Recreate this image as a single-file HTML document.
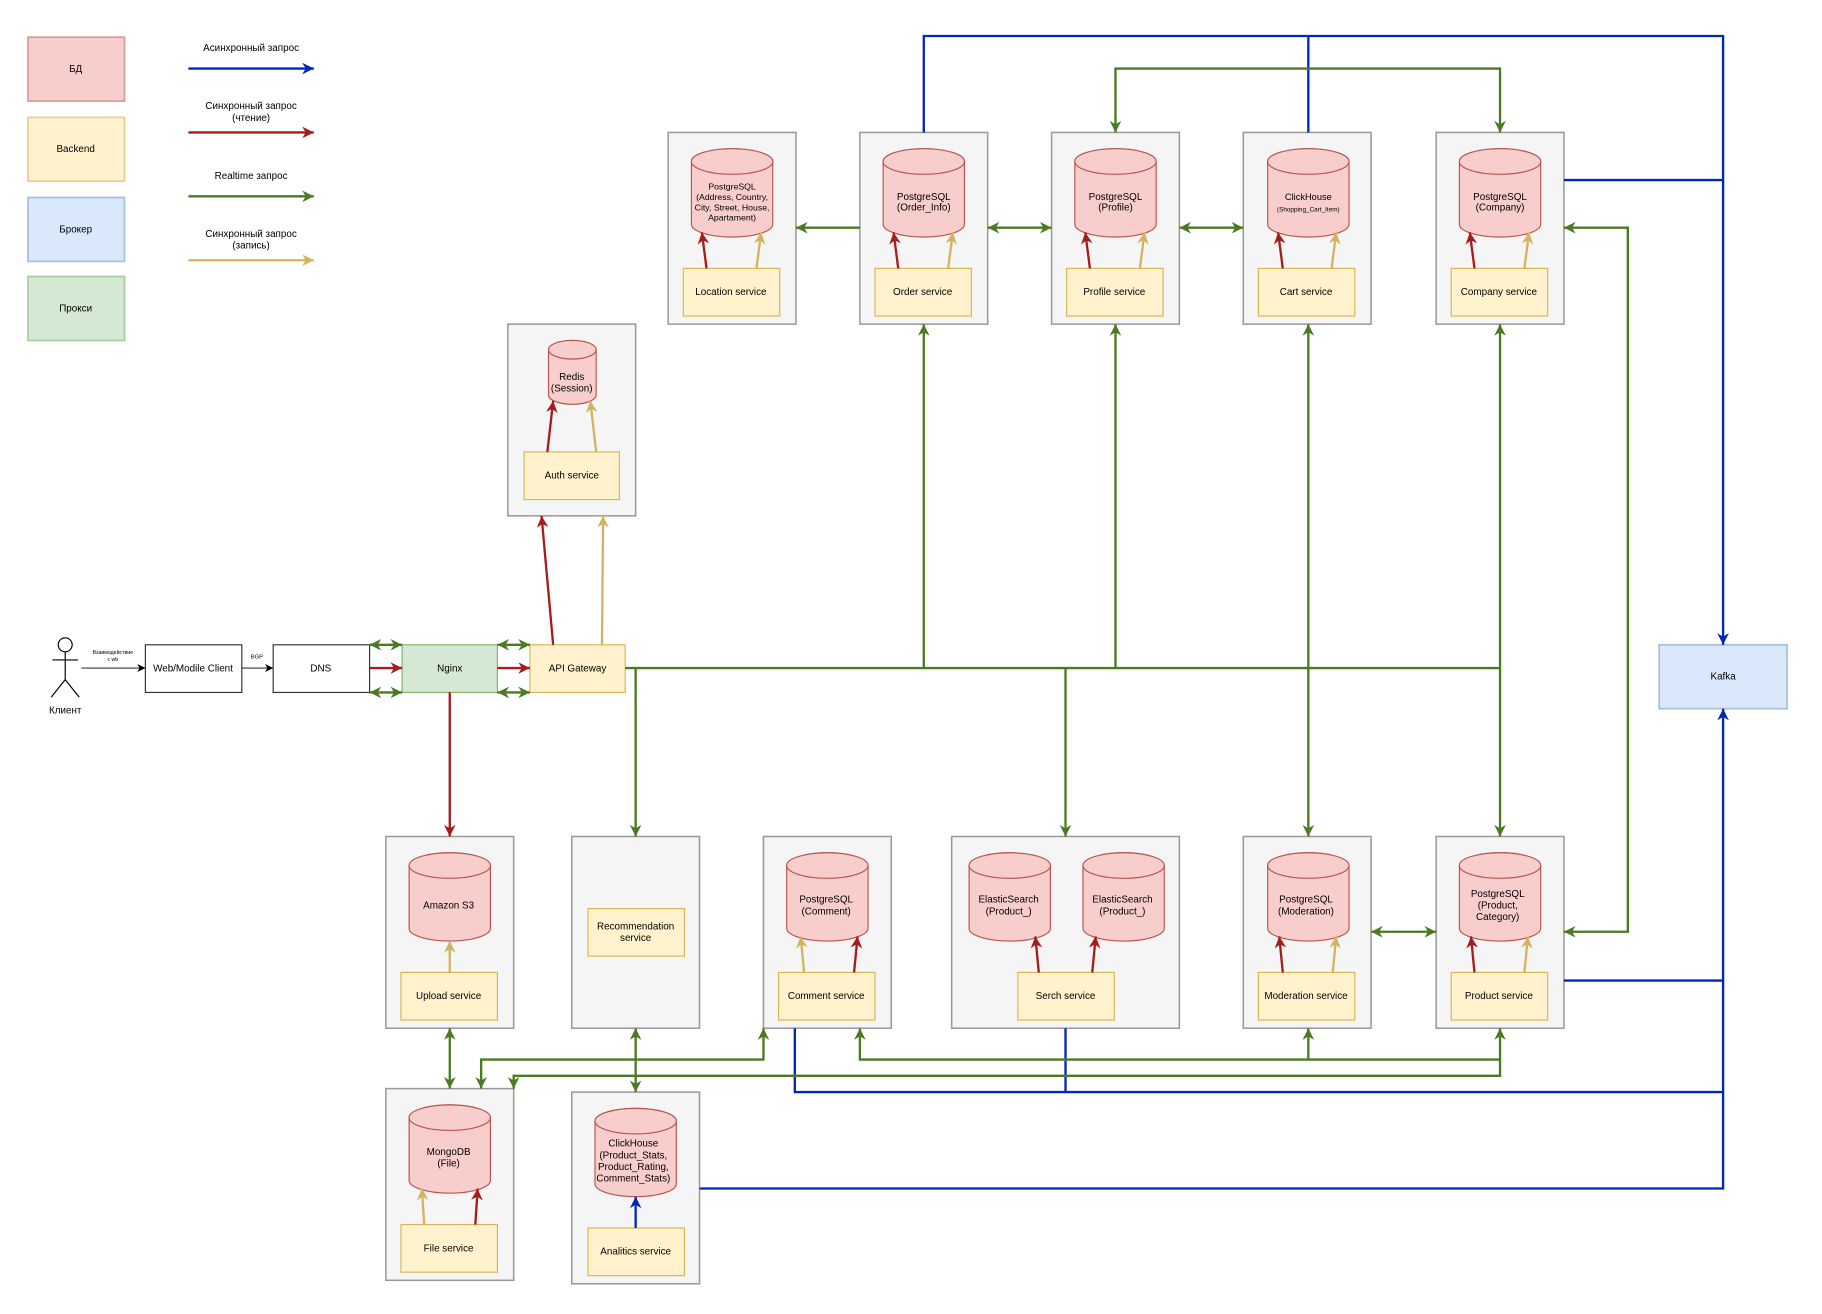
<!DOCTYPE html>
<html><head><meta charset="utf-8"><style>html,body{margin:0;padding:0;background:#fff}svg{display:block}text{font-family:"Liberation Sans","DejaVu Sans",sans-serif;fill:#000}</style></head><body>
<svg width="1822" height="1314" viewBox="0 0 1568 1131" xmlns="http://www.w3.org/2000/svg">
<defs>
<marker id="b" markerUnits="userSpaceOnUse" markerWidth="12" markerHeight="12" refX="10" refY="5" orient="auto-start-reverse"><path d="M0,0 L10,5 L0,10 L3,5z" fill="#0027b8"/></marker>
<marker id="r" markerUnits="userSpaceOnUse" markerWidth="12" markerHeight="12" refX="10" refY="5" orient="auto-start-reverse"><path d="M0,0 L10,5 L0,10 L3,5z" fill="#a61c1c"/></marker>
<marker id="g" markerUnits="userSpaceOnUse" markerWidth="12" markerHeight="12" refX="10" refY="5" orient="auto-start-reverse"><path d="M0,0 L10,5 L0,10 L3,5z" fill="#4a7a22"/></marker>
<marker id="y" markerUnits="userSpaceOnUse" markerWidth="12" markerHeight="12" refX="10" refY="5" orient="auto-start-reverse"><path d="M0,0 L10,5 L0,10 L3,5z" fill="#d3b45e"/></marker>
<marker id="k" markerUnits="userSpaceOnUse" markerWidth="8" markerHeight="8" refX="7" refY="3.5" orient="auto"><path d="M0,0 L7,3.5 L0,7 L2,3.5z" fill="#000"/></marker>
</defs>
<g font-size="8.5" text-anchor="middle">
<rect x="24" y="32" width="83" height="55" fill="#f8cecc" stroke="#d79b9b" stroke-width="1.5"/><text x="65" y="62">БД</text>
<rect x="24" y="101" width="83" height="55" fill="#fff2cc" stroke="#e6d08e" stroke-width="1.5"/><text x="65" y="131">Backend</text>
<rect x="24" y="170" width="83" height="55" fill="#dae8fc" stroke="#a9bfe0" stroke-width="1.5"/><text x="65" y="200">Брокер</text>
<rect x="24" y="238" width="83" height="55" fill="#d5e8d4" stroke="#a9cc9f" stroke-width="1.5"/><text x="65" y="268">Прокси</text>
<text x="216" y="44">Асинхронный запрос</text>
<line x1="162" y1="59" x2="270" y2="59" stroke="#0027b8" stroke-width="2" marker-end="url(#b)"/>
<text x="216" y="94">Синхронный запрос</text><text x="216" y="104">(чтение)</text>
<line x1="162" y1="114" x2="270" y2="114" stroke="#a61c1c" stroke-width="2" marker-end="url(#r)"/>
<text x="216" y="154">Realtime запрос</text>
<line x1="162" y1="169" x2="270" y2="169" stroke="#4a7a22" stroke-width="2" marker-end="url(#g)"/>
<text x="216" y="204">Синхронный запрос</text><text x="216" y="214">(запись)</text>
<line x1="162" y1="224" x2="270" y2="224" stroke="#d3b45e" stroke-width="2" marker-end="url(#y)"/>

<g fill="#f5f5f5" stroke="#999" stroke-width="1.3">
<rect x="575" y="114" width="110" height="165"/><rect x="740" y="114" width="110" height="165"/><rect x="905" y="114" width="110" height="165"/><rect x="1070" y="114" width="110" height="165"/><rect x="1236" y="114" width="110" height="165"/>
<rect x="437" y="279" width="110" height="165"/>
<rect x="332" y="720" width="110" height="165"/><rect x="492" y="720" width="110" height="165"/><rect x="657" y="720" width="110" height="165"/><rect x="819" y="720" width="196" height="165"/><rect x="1070" y="720" width="110" height="165"/><rect x="1236" y="720" width="110" height="165"/>
<rect x="332" y="937" width="110" height="165"/><rect x="492" y="940" width="110" height="165"/>
</g>

<g fill="#f8cecc" stroke="#b85450" stroke-width="1">
<path d="M595,139 V193 A35,11 0 0 0 665,193 V139 A35,11 0 0 0 595,139Z"/><ellipse cx="630" cy="139" rx="35" ry="11"/>
<path d="M760,139 V193 A35,11 0 0 0 830,193 V139 A35,11 0 0 0 760,139Z"/><ellipse cx="795" cy="139" rx="35" ry="11"/>
<path d="M925,139 V193 A35,11 0 0 0 995,193 V139 A35,11 0 0 0 925,139Z"/><ellipse cx="960" cy="139" rx="35" ry="11"/>
<path d="M1091,139 V193 A35,11 0 0 0 1161,193 V139 A35,11 0 0 0 1091,139Z"/><ellipse cx="1126" cy="139" rx="35" ry="11"/>
<path d="M1256,139 V193 A35,11 0 0 0 1326,193 V139 A35,11 0 0 0 1256,139Z"/><ellipse cx="1291" cy="139" rx="35" ry="11"/>
<path d="M472,301 V340 A20.5,8 0 0 0 513,340 V301 A20.5,8 0 0 0 472,301Z"/><ellipse cx="492.5" cy="301" rx="20.5" ry="8"/>
<path d="M352,745 V799 A35,11 0 0 0 422,799 V745 A35,11 0 0 0 352,745Z"/><ellipse cx="387" cy="745" rx="35" ry="11"/>
<path d="M677,745 V799 A35,11 0 0 0 747,799 V745 A35,11 0 0 0 677,745Z"/><ellipse cx="712" cy="745" rx="35" ry="11"/>
<path d="M834,745 V799 A35,11 0 0 0 904,799 V745 A35,11 0 0 0 834,745Z"/><ellipse cx="869" cy="745" rx="35" ry="11"/>
<path d="M932,745 V799 A35,11 0 0 0 1002,799 V745 A35,11 0 0 0 932,745Z"/><ellipse cx="967" cy="745" rx="35" ry="11"/>
<path d="M1091,745 V799 A35,11 0 0 0 1161,799 V745 A35,11 0 0 0 1091,745Z"/><ellipse cx="1126" cy="745" rx="35" ry="11"/>
<path d="M1256,745 V799 A35,11 0 0 0 1326,799 V745 A35,11 0 0 0 1256,745Z"/><ellipse cx="1291" cy="745" rx="35" ry="11"/>
<path d="M352,962 V1016 A35,11 0 0 0 422,1016 V962 A35,11 0 0 0 352,962Z"/><ellipse cx="387" cy="962" rx="35" ry="11"/>
<path d="M512,965 V1019 A35,11 0 0 0 582,1019 V965 A35,11 0 0 0 512,965Z"/><ellipse cx="547" cy="965" rx="35" ry="11"/>
</g>

<g fill="#fff2cc" stroke="#d6b656" stroke-width="1">
<rect x="588" y="231" width="83" height="41"/><rect x="753" y="231" width="83" height="41"/><rect x="918" y="231" width="83" height="41"/><rect x="1083" y="231" width="83" height="41"/><rect x="1249" y="231" width="83" height="41"/>
<rect x="451" y="389" width="82" height="41"/>
<rect x="456" y="555" width="82" height="41"/>
<rect x="345" y="837" width="83" height="41"/><rect x="506" y="782" width="83" height="41"/><rect x="670" y="837" width="83" height="41"/><rect x="876" y="837" width="83" height="41"/><rect x="1083" y="837" width="83" height="41"/><rect x="1249" y="837" width="83" height="41"/>
<rect x="345" y="1054" width="83" height="41"/><rect x="506" y="1057" width="83" height="41"/>
</g>
<rect x="346" y="555" width="82" height="41" fill="#d5e8d4" stroke="#82b366"/>
<rect x="1428" y="555" width="110" height="55" fill="#dae8fc" stroke="#a9bfe0" stroke-width="1.5"/>
<rect x="125" y="555" width="83" height="41" fill="#fff" stroke="#333"/>
<rect x="235" y="555" width="83" height="41" fill="#fff" stroke="#333"/>

<g stroke="#000" stroke-width="1" fill="none"><circle cx="56" cy="555" r="6"/><line x1="56" y1="561" x2="56" y2="585"/><line x1="45" y1="568" x2="67" y2="568"/><line x1="56" y1="585" x2="44" y2="600"/><line x1="56" y1="585" x2="68" y2="600"/></g>
<text x="56" y="614">Клиент</text>

<g font-size="7.5">
<text x="630" y="163">PostgreSQL</text><text x="630" y="172">(Address, Country,</text><text x="630" y="181">City, Street, House,</text><text x="630" y="190">Apartament)</text>
</g>
<text x="795" y="172">PostgreSQL</text><text x="795" y="181">(Order_Info)</text>
<text x="960" y="172">PostgreSQL</text><text x="960" y="181">(Profile)</text>
<text x="1126" y="172" font-size="8">ClickHouse</text><text x="1126" y="182" font-size="5.5">(Shopping_Cart_Item)</text>
<text x="1291" y="172">PostgreSQL</text><text x="1291" y="181">(Company)</text>
<text x="492" y="327">Redis</text><text x="492" y="337">(Session)</text>
<text x="629" y="254">Location service</text><text x="794" y="254">Order service</text><text x="959" y="254">Profile service</text><text x="1124" y="254">Cart service</text><text x="1290" y="254">Company service</text>
<text x="492" y="412">Auth service</text>
<text x="166" y="578">Web/Modile Client</text><text x="276" y="578">DNS</text><text x="387" y="578">Nginx</text><text x="497" y="578">API Gateway</text><text x="1483" y="585">Kafka</text>
<text x="97" y="563" font-size="4.5">Взаимодействие</text><text x="97" y="569" font-size="4.5">с wb</text>
<text x="221" y="567" font-size="5">BGP</text>
<text x="386" y="782">Amazon S3</text>
<text x="711" y="777">PostgreSQL</text><text x="711" y="787">(Comment)</text>
<text x="868" y="777">ElasticSearch</text><text x="868" y="787">(Product_)</text>
<text x="966" y="777">ElasticSearch</text><text x="966" y="787">(Product_)</text>
<text x="1124" y="777">PostgreSQL</text><text x="1124" y="787">(Moderation)</text>
<text x="1289" y="772">PostgreSQL</text><text x="1289" y="782">(Product,</text><text x="1289" y="792">Category)</text>
<text x="386" y="860">Upload service</text><text x="547" y="800">Recommendation</text><text x="547" y="810">service</text>
<text x="711" y="860">Comment service</text><text x="917" y="860">Serch service</text><text x="1124" y="860">Moderation service</text><text x="1290" y="860">Product service</text>
<text x="386" y="994">MongoDB</text><text x="386" y="1004">(File)</text>
<text x="545" y="987">ClickHouse</text><text x="545" y="997">(Product_Stats,</text><text x="545" y="1007">Product_Rating,</text><text x="545" y="1017">Comment_Stats)</text>
<text x="386" y="1077">File service</text><text x="547" y="1080">Analitics service</text>
</g>

<line x1="70" y1="575" x2="125" y2="575" stroke="#000" stroke-width="0.8" marker-end="url(#k)"/>
<line x1="208" y1="575" x2="235" y2="575" stroke="#000" stroke-width="0.8" marker-end="url(#k)"/>

<g fill="none" stroke-width="2">
<g stroke="#a61c1c" marker-end="url(#r)">
<line x1="608" y1="231" x2="604" y2="200"/><line x1="773" y1="231" x2="769" y2="200"/><line x1="938" y1="231" x2="934" y2="200"/><line x1="1104" y1="231" x2="1100" y2="200"/><line x1="1269" y1="231" x2="1265" y2="200"/>
<line x1="471" y1="389" x2="476" y2="345"/>
<line x1="735" y1="837" x2="738" y2="806"/><line x1="894" y1="837" x2="891" y2="806"/><line x1="940" y1="837" x2="943" y2="806"/>
<line x1="1104" y1="837" x2="1101" y2="806"/><line x1="1269" y1="837" x2="1266" y2="806"/>
<line x1="409" y1="1054" x2="411" y2="1023"/>
<line x1="387" y1="596" x2="387" y2="720"/>
<line x1="476" y1="555" x2="466" y2="444"/>
<line x1="318" y1="575" x2="346" y2="575"/><line x1="428" y1="575" x2="456" y2="575"/>
</g>
<g stroke="#d3b45e" marker-end="url(#y)">
<line x1="651" y1="231" x2="655" y2="200"/><line x1="816" y1="231" x2="820" y2="200"/><line x1="981" y1="231" x2="985" y2="200"/><line x1="1146" y1="231" x2="1150" y2="200"/><line x1="1312" y1="231" x2="1316" y2="200"/>
<line x1="513" y1="389" x2="508" y2="345"/>
<line x1="387" y1="837" x2="387" y2="810"/>
<line x1="692" y1="837" x2="689" y2="806"/>
<line x1="1147" y1="837" x2="1150" y2="806"/><line x1="1312" y1="837" x2="1315" y2="806"/>
<line x1="365" y1="1054" x2="363" y2="1023"/>
<line x1="518" y1="555" x2="519" y2="444"/>
</g>
<line x1="547" y1="1057" x2="547" y2="1030" stroke="#0027b8" marker-end="url(#b)"/>

<g stroke="#0027b8">
<polyline points="795,114 795,31 1483,31 1483,555" marker-end="url(#b)"/>
<polyline points="1126,114 1126,31"/>
<polyline points="1346,155 1483,155"/>
<polyline points="1346,844 1483,844"/>
<polyline points="684,885 684,940 1483,940"/>
<polyline points="917,885 917,940"/>
<polyline points="602,1023 1483,1023 1483,610" marker-end="url(#b)"/>
</g>

<g stroke="#4a7a22">
<polyline points="960,114 960,59 1291,59 1291,114" marker-start="url(#g)" marker-end="url(#g)"/>
<line x1="740" y1="196" x2="685" y2="196" marker-end="url(#g)"/>
<line x1="850" y1="196" x2="905" y2="196" marker-start="url(#g)" marker-end="url(#g)"/>
<line x1="1015" y1="196" x2="1070" y2="196" marker-start="url(#g)" marker-end="url(#g)"/>
<polyline points="1346,196 1401,196 1401,802 1346,802" marker-start="url(#g)" marker-end="url(#g)"/>
<polyline points="538,575 1291,575"/>
<line x1="795" y1="575" x2="795" y2="279" marker-end="url(#g)"/>
<line x1="960" y1="575" x2="960" y2="279" marker-end="url(#g)"/>
<line x1="1126" y1="279" x2="1126" y2="720" marker-start="url(#g)" marker-end="url(#g)"/>
<line x1="1291" y1="279" x2="1291" y2="720" marker-start="url(#g)" marker-end="url(#g)"/>
<polyline points="547,575 547,720" marker-end="url(#g)"/>
<polyline points="917,575 917,720" marker-end="url(#g)"/>
<line x1="1180" y1="802" x2="1236" y2="802" marker-start="url(#g)" marker-end="url(#g)"/>
<line x1="387" y1="885" x2="387" y2="937" marker-start="url(#g)" marker-end="url(#g)"/>
<line x1="547" y1="885" x2="547" y2="940" marker-start="url(#g)" marker-end="url(#g)"/>
<polyline points="414,937 414,912 657,912 657,885" marker-start="url(#g)" marker-end="url(#g)"/>
<polyline points="740,885 740,912 1291,912 1291,885" marker-start="url(#g)" marker-end="url(#g)"/>
<line x1="1126" y1="912" x2="1126" y2="885" marker-end="url(#g)"/>
<polyline points="442,937 442,926 1291,926 1291,912" marker-start="url(#g)"/>
<line x1="318" y1="555" x2="346" y2="555" marker-start="url(#g)" marker-end="url(#g)"/>
<line x1="318" y1="596" x2="346" y2="596" marker-start="url(#g)" marker-end="url(#g)"/>
<line x1="428" y1="555" x2="456" y2="555" marker-start="url(#g)" marker-end="url(#g)"/>
<line x1="428" y1="596" x2="456" y2="596" marker-start="url(#g)" marker-end="url(#g)"/>
</g>
</g>
</svg>
</body></html>
